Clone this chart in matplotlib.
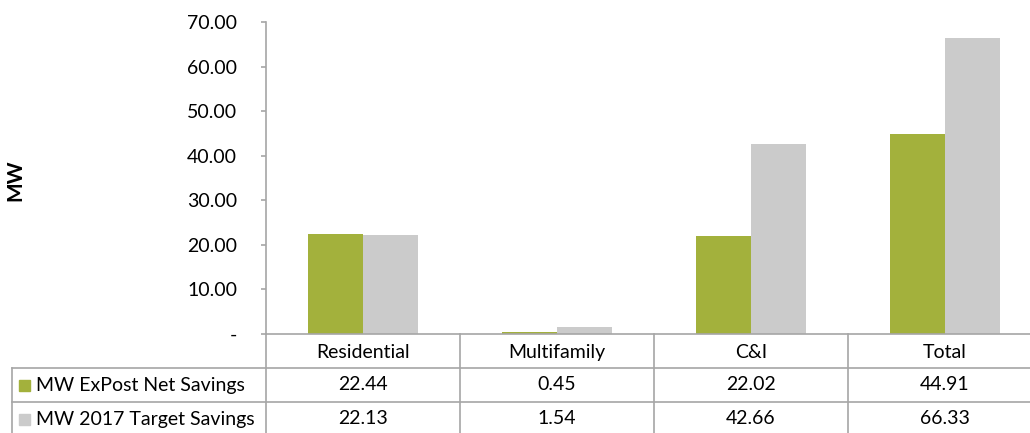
import matplotlib.pyplot as plt
import matplotlib.transforms as mtransforms
import numpy as np

plt.rcParams["font.family"] = ["Lato", "DejaVu Sans"]

categories = ["Residential", "Multifamily", "C&I", "Total"]
expost_net = [22.44, 0.45, 22.02, 44.91]
target_2017 = [22.13, 1.54, 42.66, 66.33]
series_names = ["MW ExPost Net Savings", "MW 2017 Target Savings"]
yticks = [0, 10, 20, 30, 40, 50, 60, 70]

GREEN = "#A3B13C"
GRAY = "#CBCBCB"
LINE = "#A6A6A6"

W, H = 1030, 433
fig = plt.figure(figsize=(W / 100, H / 100), dpi=100)

# axes box in pixel terms (left, top, right, bottom)
left_px, top_px, right_px, bottom_px = 266, 22, 1042, 334
ax = fig.add_axes([left_px / W, 1 - bottom_px / H,
                   (right_px - left_px) / W, (bottom_px - top_px) / H])

x = np.arange(len(categories))
bw = 0.285
ax.bar(x - bw / 2, expost_net, bw, color=GREEN, zorder=2)
ax.bar(x + bw / 2, target_2017, bw, color=GRAY, zorder=2)

ax.set_xlim(-0.5, len(categories) - 0.5)
ax.set_ylim(0, 70)
ax.set_yticks(yticks)
ax.set_yticklabels(["-" if v == 0 else f"{v:.2f}" for v in yticks], fontsize=14)
ax.tick_params(axis="y", direction="out", length=3.6, width=1.2,
               color=LINE, pad=17.3)
ax.set_xticks([])
for side in ("top", "right"):
    ax.spines[side].set_visible(False)
for side in ("left", "bottom"):
    ax.spines[side].set_color(LINE)
    ax.spines[side].set_linewidth(1.2)

fig.text(15 / W, 1 - 180 / H, "MW", rotation=90, fontsize=15,
         fontweight="bold", ha="center", va="center")

# data table under the plot
ax_h = bottom_px - top_px
row_h = 34 / ax_h
trans = mtransforms.blended_transform_factory(ax.transData, ax.transAxes)
label_left = (12 - left_px) / (right_px - left_px)

line_kw = dict(color=LINE, lw=1.2, clip_on=False)
# vertical separators
for xv in np.arange(-0.5, len(categories), 1.0):
    ax.plot([xv, xv], [0, -3.2 * row_h], transform=trans, **line_kw)
ax.plot([label_left, label_left], [-row_h, -3.2 * row_h],
        transform=ax.transAxes, **line_kw)
# horizontal rules
for k in (1, 2):
    ax.plot([label_left, 1], [-k * row_h, -k * row_h],
            transform=ax.transAxes, **line_kw)

for i, cat in enumerate(categories):
    ax.text(i, -0.55 * row_h, cat, transform=trans, ha="center",
            va="center", fontsize=14, clip_on=False)
    ax.text(i, -1.5 * row_h, f"{expost_net[i]:.2f}", transform=trans,
            ha="center", va="center", fontsize=14, clip_on=False)
    ax.text(i, -2.5 * row_h, f"{target_2017[i]:.2f}", transform=trans,
            ha="center", va="center", fontsize=14, clip_on=False)

# series keys in the label column
for k, (name, col) in enumerate(zip(series_names, [GREEN, GRAY])):
    yc = 1 - (bottom_px + (k + 1.5) * 34) / H
    fig.patches.append(plt.Rectangle((19 / W, yc - 5.5 / H), 11 / W, 11 / H,
                                     transform=fig.transFigure, color=col))
    fig.text(36 / W, yc, name, fontsize=14, ha="left", va="center")

fig.savefig("out.png", dpi=100)
